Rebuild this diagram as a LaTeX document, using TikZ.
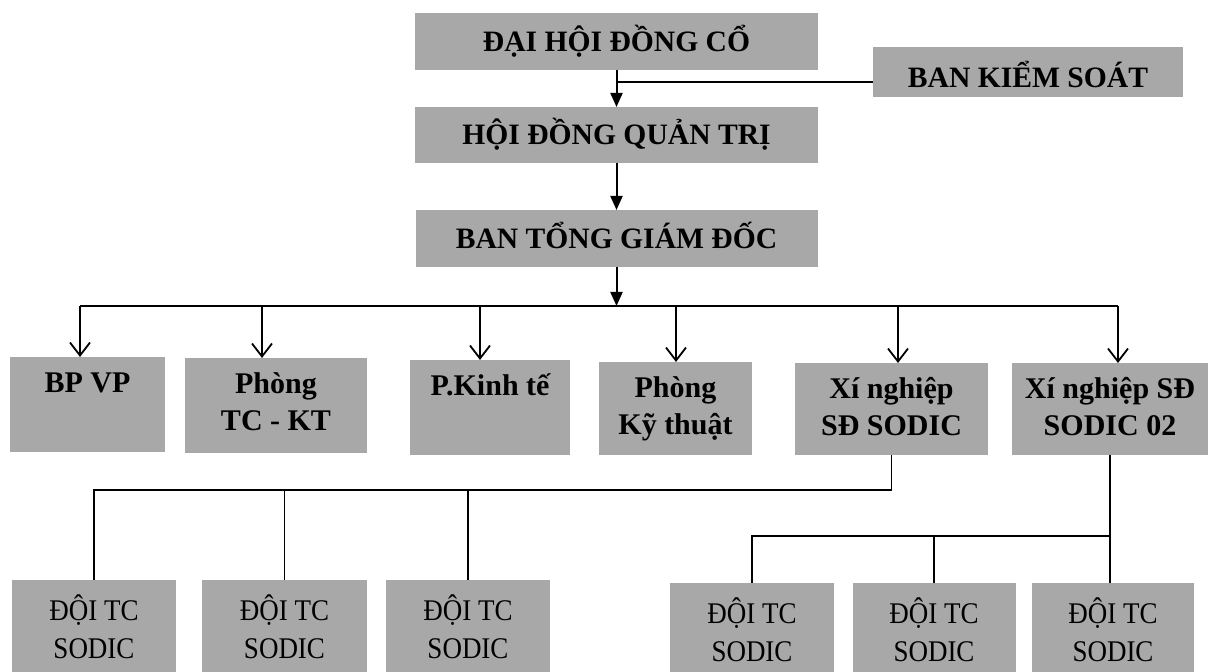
\documentclass[tikz,border=0pt]{standalone}
\usepackage{fontspec}
\setmainfont{Liberation Serif}
\newfontfamily\condserif{Liberation Serif}[FakeStretch=0.9]
\usetikzlibrary{arrows.meta}
\definecolor{boxgray}{RGB}{168,168,168}
\tikzset{
  box/.style={fill=boxgray, draw=none, inner sep=0pt, outer sep=0pt},
  toptxt/.style={font=\bfseries\fontsize{14.8}{17}\selectfont, text height=9.8pt, text depth=0pt},
  sidetxt/.style={font=\bfseries\fontsize{14.8}{17}\selectfont, anchor=base, inner sep=0pt},
  midtxt/.style={font=\bfseries\fontsize{15}{18.5}\selectfont, align=center, anchor=north, inner sep=0pt},
  lowtxt/.style={font=\condserif\fontsize{15}{19}\selectfont, align=center, anchor=north, inner sep=0pt},
  mainarrow/.style={line width=1pt, -{Triangle[length=7pt,width=6pt]}},
  brancharrow/.style={line width=0.9pt, -{Straight Barb[length=6.5pt,width=10pt,line width=0.9pt]}},
  barline/.style={line width=1pt},
  thinline/.style={line width=0.7pt},
}
\begin{document}
\begin{tikzpicture}[x=0.5pt,y=-0.5pt]
\useasboundingbox (0,0) rectangle (1211,672);
\fill[white] (0,0) rectangle (1211,672);
\clip (0,0) rectangle (1211,672);

% top chain
\node[box, toptxt, minimum width=201.5pt, minimum height=28.5pt] (dh) at (616.5,41.5) {ĐẠI HỘI ĐỒNG CỔ};
\node[box, toptxt, minimum width=201.5pt, minimum height=28pt] (hd) at (616.5,135) {HỘI ĐỒNG QUẢN TRỊ};
\node[box, toptxt, minimum width=201pt, minimum height=28.5pt] (tgd) at (616.5,238.5) {BAN TỔNG GIÁM ĐỐC};
\node[box, minimum width=155pt, minimum height=25pt] (bks) at (1028,72) {};
\node[sidetxt] (bkst) at (1028,88) {BAN KIỂM SOÁT};

\draw[mainarrow] (dh.south) -- (hd.north);
\draw[mainarrow] (hd.south) -- (tgd.north);
\coordinate (dhj) at (616.5,82);
\draw[barline] (dhj) -- (dhj -| bks.west);

% bar
\coordinate (barc) at (616.5,306);
\coordinate (a1) at (80,306);
\coordinate (a2) at (262,306);
\coordinate (a3) at (480,306);
\coordinate (a4) at (676,306);
\coordinate (a5) at (898,306);
\coordinate (a6) at (1118,306);
\draw[mainarrow] (tgd.south) -- (barc);
\draw[barline] (a1) -- (a6);

% second row
\node[box, minimum width=77.5pt, minimum height=47.5pt] (bp) at (87.5,404.5) {};
\node[box, minimum width=91pt, minimum height=47.5pt] (tckt) at (276,405.5) {};
\node[box, minimum width=80pt, minimum height=47.5pt] (pkt) at (490,407.5) {};
\node[box, minimum width=76.5pt, minimum height=46.5pt] (kth) at (675.5,408.5) {};
\node[box, minimum width=96.5pt, minimum height=46pt] (xn1) at (891.5,409) {};
\node[box, minimum width=98pt, minimum height=46pt] (xn2) at (1110,409) {};

\node[midtxt] (bpt) at ([yshift=-2.5pt]bp.north) {\rule{0pt}{15pt}BP VP};
\node[midtxt] (tcktt) at ([yshift=-2.5pt]tckt.north) {\rule{0pt}{15pt}Phòng\\TC - KT};
\node[midtxt] (pktt) at ([yshift=-2.5pt]pkt.north) {\rule{0pt}{15pt}P.Kinh tế};
\node[midtxt] (ktht) at ([yshift=-2.5pt]kth.north) {\rule{0pt}{15pt}Phòng\\Kỹ thuật};
\node[midtxt] (xn1t) at ([yshift=-2.5pt]xn1.north) {\rule{0pt}{15pt}Xí nghiệp\\SĐ SODIC};
\node[midtxt] (xn2t) at ([yshift=-2.5pt]xn2.north) {\rule{0pt}{15pt}Xí nghiệp SĐ\\SODIC 02};

\draw[brancharrow] (a1) -- (a1 |- bp.north);
\draw[brancharrow] (a2) -- (a2 |- tckt.north);
\draw[brancharrow] (a3) -- (a3 |- pkt.north);
\draw[brancharrow] (a4) -- (a4 |- kth.north);
\draw[brancharrow] (a5) -- (a5 |- xn1.north);
\draw[brancharrow] (a6) -- (a6 |- xn2.north);

% third row
\node[box, minimum width=82pt, minimum height=60pt, anchor=north] (d1) at (94,580) {};
\node[box, minimum width=82.5pt, minimum height=60pt, anchor=north] (d2) at (284.5,580) {};
\node[box, minimum width=82pt, minimum height=60pt, anchor=north] (d3) at (468,580) {};
\node[box, minimum width=82pt, minimum height=60pt, anchor=north] (d4) at (752,583) {};
\node[box, minimum width=81.5pt, minimum height=60pt, anchor=north] (d5) at (934,583) {};
\node[box, minimum width=81pt, minimum height=60pt, anchor=north] (d6) at (1113,583) {};

\foreach \d in {d1,d2,d3,d4,d5,d6}{
  \node[lowtxt] (\d t) at ([yshift=-5pt]\d.north) {\rule{0pt}{15pt}ĐỘI TC\\SODIC};
}

\coordinate (jl) at ([yshift=-17.5pt]xn1.south);
\draw[thinline] (xn1.south) -- (jl) -| (d1.north);
\draw[thinline] (d2.north) -- (d2.north |- jl);
\draw[thinline] (d3.north) -- (d3.north |- jl);

\coordinate (jr) at (xn2.south |- 0,536);
\draw[thinline] (xn2.south) -- (xn2.south |- d6.north);
\draw[thinline] (d4.north) |- (jr);
\draw[thinline] (d5.north) -- (d5.north |- jr);
\end{tikzpicture}
\end{document}
